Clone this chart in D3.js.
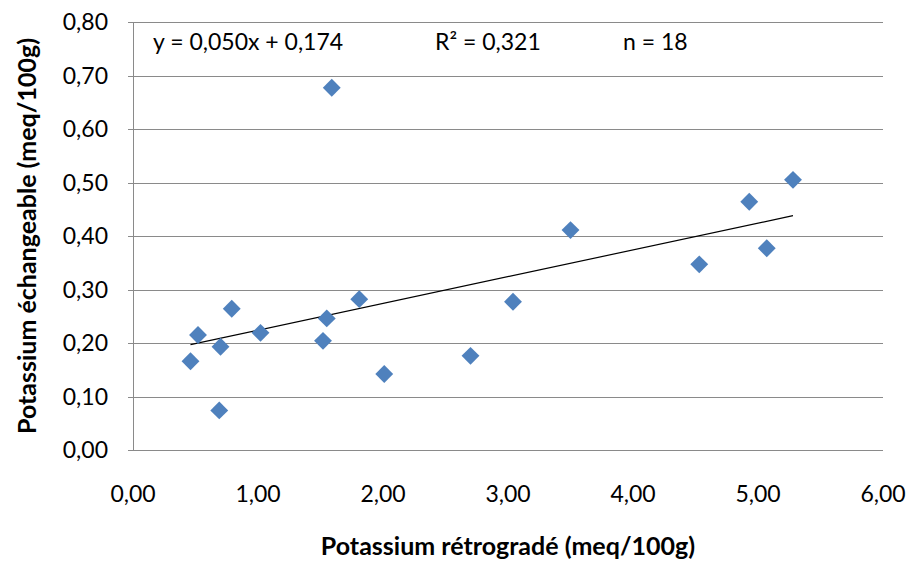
<!DOCTYPE html>
<html>
<head>
<meta charset="utf-8">
<script src="https://cdn.jsdelivr.net/npm/d3@7"></script>
<style>
  body { margin: 0; background: #fff; }
  text { font-family: Lato, "Open Sans", sans-serif; fill: #000; }
</style>
</head>
<body>
<div id="chart"></div>
<script>
// data
const kRetro = [1.59, 0.46, 0.52, 0.70, 0.69, 0.79, 1.02, 1.55, 1.52, 1.81, 2.01, 2.70, 3.04, 3.50, 4.53, 4.93, 5.07, 5.28]
const kEch   = [0.677, 0.166, 0.215, 0.193, 0.074, 0.264, 0.219, 0.246, 0.204, 0.282, 0.142, 0.176, 0.277, 0.411, 0.347, 0.464, 0.377, 0.505]
const xTicks = [0, 1, 2, 3, 4, 5, 6]
const yTicks = [0, 0.1, 0.2, 0.3, 0.4, 0.5, 0.6, 0.7, 0.8]
const fitSlope = 0.050
const fitIntercept = 0.174
const annotations = ['y = 0,050x + 0,174', 'R² = 0,321', 'n = 18']

const width = 912, height = 566
const margin = {top: 22, right: 29, bottom: 116, left: 133}
const plotW = width - margin.left - margin.right
const plotH = height - margin.top - margin.bottom

const svg = d3.select('#chart').append('svg')
  .attr('width', width)
  .attr('height', height)

const g = svg.append('g')
  .attr('transform', 'translate(' + margin.left + ',' + margin.top + ')')

const x = d3.scaleLinear().domain([0, 6]).range([0, plotW])
const y = d3.scaleLinear().domain([0, 0.8]).range([plotH, 0])

const fmt = (d) => d3.format('.2f')(d).replace('.', ',')

// horizontal gridlines
g.append('g').selectAll('line')
  .data(yTicks).enter()
  .append('line')
    .attr('x1', -5)
    .attr('x2', plotW)
    .attr('y1', (d) => Math.round(y(d)) + 0.5)
    .attr('y2', (d) => Math.round(y(d)) + 0.5)
    .attr('stroke', '#8a8a8a')
    .attr('stroke-width', 1)

// left axis line
g.append('line')
  .attr('x1', 0.5).attr('x2', 0.5)
  .attr('y1', 0).attr('y2', plotH)
  .attr('stroke', '#8a8a8a')

// y tick labels
g.append('g').selectAll('text')
  .data(yTicks).enter()
  .append('text')
    .attr('x', -25)
    .attr('y', (d) => y(d))
    .attr('dy', '0.35em')
    .attr('text-anchor', 'end')
    .style('font-size', '23px')
    .text(fmt)

// x tick labels
g.append('g').selectAll('text')
  .data(xTicks).enter()
  .append('text')
    .attr('x', (d) => x(d))
    .attr('y', plotH + 52)
    .attr('text-anchor', 'middle')
    .style('font-size', '23px')
    .text(fmt)

// trend line from min x to max x
const xMin = d3.min(kRetro), xMax = d3.max(kRetro)
g.append('line')
  .attr('x1', x(xMin)).attr('y1', y(fitSlope * xMin + fitIntercept))
  .attr('x2', x(xMax)).attr('y2', y(fitSlope * xMax + fitIntercept))
  .attr('stroke', '#000')
  .attr('stroke-width', 1.2)

// diamond markers
const diamond = d3.symbol().type(d3.symbolSquare).size(160)
g.append('g').selectAll('path')
  .data(kRetro.map((d, i) => [d, kEch[i]])).enter()
  .append('path')
    .attr('d', diamond)
    .attr('transform', (d) => 'translate(' + x(d[0]) + ',' + y(d[1]) + ') rotate(45)')
    .attr('fill', '#4f81bd')

// annotations inside the plot
const annoX = [153, 435, 623]
svg.append('g').selectAll('text')
  .data(annotations).enter()
  .append('text')
    .attr('x', (d, i) => annoX[i])
    .attr('y', 50)
    .style('font-size', '23px')
    .text((d) => d)

// axis titles
svg.append('text')
  .attr('x', margin.left + plotW / 2)
  .attr('y', 555)
  .attr('text-anchor', 'middle')
  .style('font-size', '25px')
  .style('font-weight', 'bold')
  .text('Potassium rétrogradé (meq/100g)')

svg.append('text')
  .attr('transform', 'translate(36,' + (margin.top + plotH / 2) + ') rotate(-90)')
  .attr('text-anchor', 'middle')
  .style('font-size', '25px')
  .style('font-weight', 'bold')
  .text('Potassium échangeable (meq/100g)')
</script>
</body>
</html>
